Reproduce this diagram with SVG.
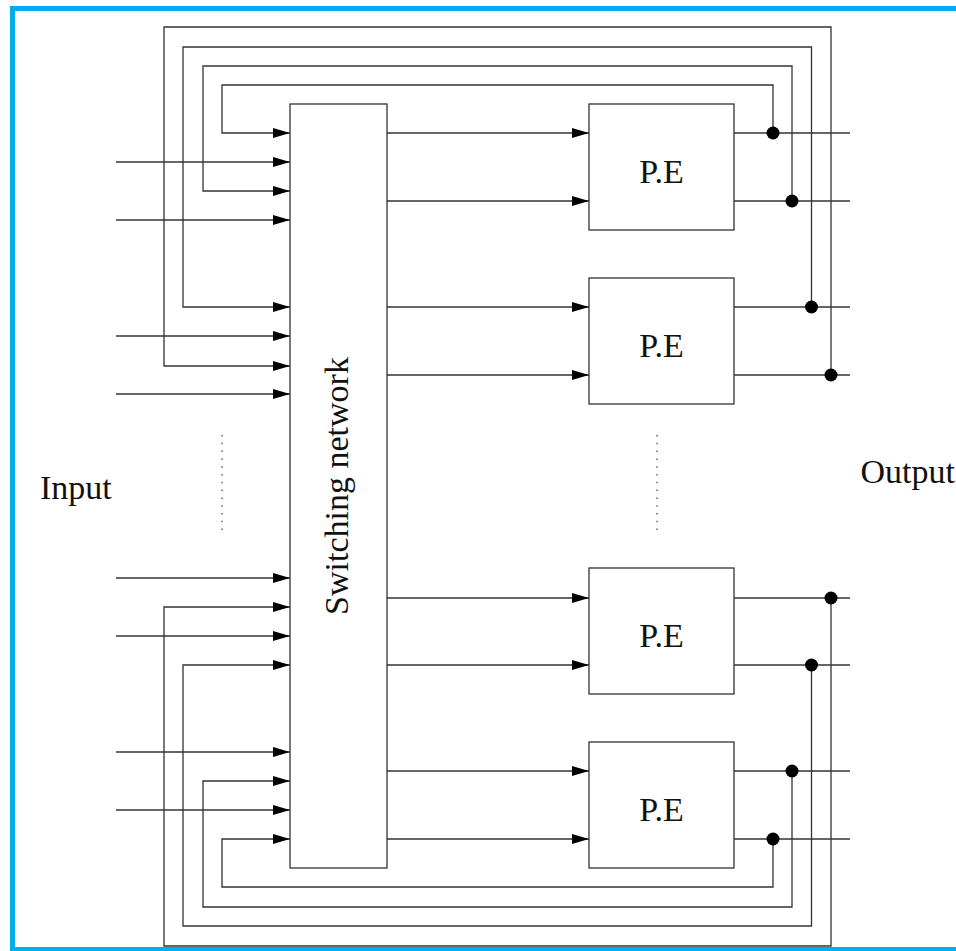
<svg xmlns="http://www.w3.org/2000/svg" width="956" height="951" viewBox="0 0 956 951">
<style>
.box{fill:#fff;stroke:#333;stroke-width:1.3}
.ln{fill:none;stroke:#333;stroke-width:1.3}
.arr{fill:none;stroke:#333;stroke-width:1.3;marker-end:url(#ah)}
.dot{fill:#000}
.lbl{font-family:"Liberation Serif","Times New Roman",serif;font-size:34px;fill:#111}
.dots{fill:none;stroke:#666;stroke-width:1.5;stroke-dasharray:1.5 6.3}
</style>
<defs>
<marker id="ah" markerUnits="userSpaceOnUse" markerWidth="18" markerHeight="11" refX="17" refY="5" orient="auto">
<path d="M0,0 L17,5 L0,10 z" fill="#000"/>
</marker>
</defs>
<rect x="12.5" y="8.5" width="970" height="941" fill="#fff" stroke="#00AEEF" stroke-width="5"/>
<g id="connectors">
<!-- external inputs -->
<path class="arr" d="M116,162H290"/>
<path class="arr" d="M116,220H290"/>
<path class="arr" d="M116,336H290"/>
<path class="arr" d="M116,394H290"/>
<path class="arr" d="M116,578H290"/>
<path class="arr" d="M116,636H290"/>
<path class="arr" d="M116,752H290"/>
<path class="arr" d="M116,810H290"/>
<!-- switch to PE -->
<path class="arr" d="M387,133H589"/>
<path class="arr" d="M387,201H589"/>
<path class="arr" d="M387,307H589"/>
<path class="arr" d="M387,375H589"/>
<path class="arr" d="M387,598H589"/>
<path class="arr" d="M387,665H589"/>
<path class="arr" d="M387,771H589"/>
<path class="arr" d="M387,839H589"/>
<!-- PE outputs -->
<path class="ln" d="M734,133H850"/>
<path class="ln" d="M734,201H850"/>
<path class="ln" d="M734,307H850"/>
<path class="ln" d="M734,375H850"/>
<path class="ln" d="M734,598H850"/>
<path class="ln" d="M734,665H850"/>
<path class="ln" d="M734,771H850"/>
<path class="ln" d="M734,839H850"/>
<!-- top feedback loops -->
<path class="arr" d="M773,133V85H222V133H290"/>
<path class="arr" d="M792,201V66H203V191H290"/>
<path class="arr" d="M811.5,307V47H183V307H290"/>
<path class="arr" d="M831,375V27H164V366H290"/>
<!-- bottom feedback loops -->
<path class="arr" d="M773,839V887H222V839H290"/>
<path class="arr" d="M792,771V907H203V781H290"/>
<path class="arr" d="M811.5,665V926H183V665H290"/>
<path class="arr" d="M831,598V946H164V607H290"/>
<!-- junction dots -->
<circle class="dot" cx="773" cy="133" r="6.5"/>
<circle class="dot" cx="792" cy="201" r="6.5"/>
<circle class="dot" cx="811.5" cy="307" r="6.5"/>
<circle class="dot" cx="831" cy="375" r="6.5"/>
<circle class="dot" cx="831" cy="598" r="6.5"/>
<circle class="dot" cx="811.5" cy="665" r="6.5"/>
<circle class="dot" cx="792" cy="771" r="6.5"/>
<circle class="dot" cx="773" cy="839" r="6.5"/>
</g>
<g id="switch">
<rect class="box" x="290" y="104" width="97" height="764"/>
<text class="lbl" text-anchor="middle" transform="translate(348,486) rotate(-90)">Switching network</text>
</g>
<g id="pe1">
<rect class="box" x="589" y="104" width="145" height="126"/>
<text class="lbl" x="661.5" y="182.5" text-anchor="middle">P.E</text>
</g>
<g id="pe2">
<rect class="box" x="589" y="278" width="145" height="126"/>
<text class="lbl" x="661.5" y="356.5" text-anchor="middle">P.E</text>
</g>
<g id="pe3">
<rect class="box" x="589" y="568" width="145" height="126"/>
<text class="lbl" x="661.5" y="646.5" text-anchor="middle">P.E</text>
</g>
<g id="pe4">
<rect class="box" x="589" y="742" width="145" height="126"/>
<text class="lbl" x="661.5" y="820.5" text-anchor="middle">P.E</text>
</g>
<g id="ellipsis">
<path class="dots" d="M222,435V530"/>
<path class="dots" d="M657,435V530"/>
</g>
<g id="labels">
<text class="lbl" x="40" y="499">Input</text>
<text class="lbl" x="860.5" y="483">Output</text>
</g>
</svg>
